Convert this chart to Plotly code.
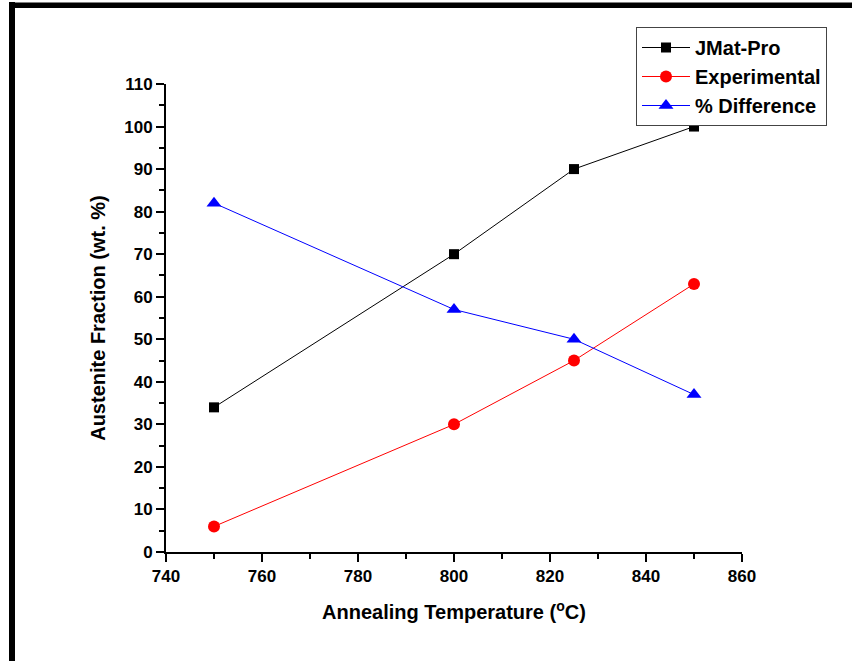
import plotly.graph_objects as go

temps = [750, 800, 825, 850]
jmatpro = [34, 70, 90, 100]
experimental = [6, 30, 45, 63]
pct_diff = [82, 57, 50, 37]

x_ticks = [740, 760, 780, 800, 820, 840, 860]
y_ticks = [0, 10, 20, 30, 40, 50, 60, 70, 80, 90, 100, 110]

L, R, T, B = 166, 110, 84, 109
W, H = 852, 661
pw, ph = W - L - R, H - T - B

def px(x):
    return (x - L) / pw

def py(y):
    return (H - B - y) / ph

font = "Liberation Sans, Arial, sans-serif"

fig = go.Figure()
fig.add_trace(go.Scatter(x=temps, y=jmatpro, mode="lines+markers", name="JMat-Pro",
                         line=dict(color="black", width=1),
                         marker=dict(symbol="square", size=10, color="black")))
fig.add_trace(go.Scatter(x=temps, y=experimental, mode="lines+markers", name="Experimental",
                         line=dict(color="red", width=1),
                         marker=dict(symbol="circle", size=12, color="red")))
fig.add_trace(go.Scatter(x=temps, y=pct_diff, mode="lines+markers", name="% Difference",
                         line=dict(color="blue", width=1),
                         marker=dict(symbol="triangle-up", size=13, color="blue")))

fig.update_layout(
    width=W, height=H,
    margin=dict(l=L, r=R, t=T, b=B),
    paper_bgcolor="white", plot_bgcolor="white",
    font=dict(family=font, color="black"),
    showlegend=True,
    legend=dict(x=px(636), y=py(27), xanchor="left", yanchor="top",
                bordercolor="#444444", borderwidth=1, bgcolor="white",
                font=dict(size=20, family=font, weight="bold"),
                tracegroupgap=0, itemwidth=48),
    xaxis=dict(range=[740, 860], tickvals=x_ticks, ticktext=[str(v) for v in x_ticks],
               showgrid=False, zeroline=False, showline=True, linecolor="black", linewidth=2,
               ticks="outside", ticklen=8, tickwidth=2, tickcolor="black",
               minor=dict(dtick=10, ticks="outside", ticklen=5, tickwidth=2, tickcolor="black", showgrid=False),
               tickfont=dict(size=17, family=font, weight="bold"),
               title=dict(text="Annealing Temperature (<sup>o</sup>C)", standoff=20,
                          font=dict(size=20, family=font, weight="bold"))),
    yaxis=dict(range=[0, 110], tickvals=y_ticks, ticktext=[str(v) for v in y_ticks],
               showgrid=False, zeroline=False, showline=True, linecolor="black", linewidth=2,
               ticks="outside", ticklen=8, tickwidth=2, tickcolor="black",
               minor=dict(dtick=5, ticks="outside", ticklen=5, tickwidth=2, tickcolor="black", showgrid=False),
               tickfont=dict(size=17, family=font, weight="bold"),
               title=dict(text="Austenite Fraction (wt. %)", standoff=13,
                          font=dict(size=20, family=font, weight="bold"))),
    shapes=[
        dict(type="rect", xref="paper", yref="paper", x0=px(9), x1=px(15), y0=py(2), y1=py(H + 5),
             fillcolor="black", line=dict(width=0), layer="above"),
        dict(type="rect", xref="paper", yref="paper", x0=px(9), x1=px(W + 5), y0=py(2.5), y1=py(8),
             fillcolor="black", line=dict(width=0), layer="above"),
    ],
)

fig.write_html("out.html")
